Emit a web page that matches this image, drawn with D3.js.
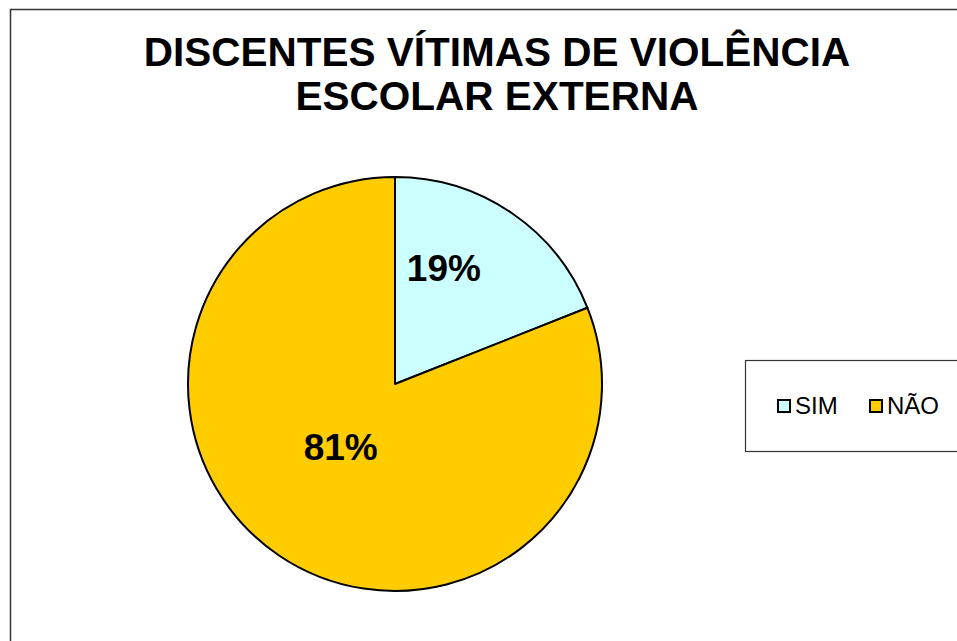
<!DOCTYPE html>
<html>
<head>
<meta charset="utf-8">
<script src="https://cdn.jsdelivr.net/npm/d3@7"></script>
<style>
  html, body { margin: 0; padding: 0; background: #fff; }
  svg { display: block; font-family: "Liberation Sans", Arial, sans-serif; }
</style>
</head>
<body>
<svg id="chart" width="957" height="641"></svg>
<script>
// ---- data ----
const categories = ["SIM", "NÃO"];
const values = [19, 81];
const valueLabels = ["19%", "81%"];
const colors = ["#CCFFFF", "#FFCC00"];
const titleLines = ["DISCENTES VÍTIMAS DE VIOLÊNCIA", "ESCOLAR EXTERNA"];

// ---- layout ----
const W = 957, H = 641;
const svg = d3.select("#chart");

// outer chart border (extends past the right/bottom edges)
svg.append("rect")
  .attr("x", 10.5).attr("y", 9.5)
  .attr("width", W + 20).attr("height", H + 20)
  .attr("fill", "#fff").attr("stroke", "#333").attr("stroke-width", 1.5);

// title
const title = svg.append("text")
  .attr("text-anchor", "middle")
  .attr("font-weight", "bold")
  .attr("font-size", 40.5)
  .attr("fill", "#000");
title.selectAll("tspan").data(titleLines).join("tspan")
  .attr("x", 497)
  .attr("y", (d, i) => 66 + i * 44)
  .text(d => d);

// pie
const cx = 395, cy = 384, r = 207;
const pie = d3.pie().sort(null).value(d => d);
const arcs = pie(values);
const arc = d3.arc().innerRadius(0).outerRadius(r);

const g = svg.append("g").attr("transform", `translate(${cx},${cy})`);
g.selectAll("path.slice").data(arcs).join("path")
  .attr("class", "slice")
  .attr("d", arc)
  .attr("fill", (d, i) => colors[i])
  .attr("stroke", "#000")
  .attr("stroke-width", 2)
  .attr("stroke-linejoin", "round");

// data labels: placed along a polar position relative to each slice
const labelAngleFrac = [0.34, 0.52];
const labelRadiusFrac = [0.61, 0.40];
g.selectAll("text.lbl").data(arcs).join("text")
  .attr("class", "lbl")
  .attr("text-anchor", "middle")
  .attr("font-weight", "bold")
  .attr("font-size", 37)
  .attr("fill", "#000")
  .attr("transform", (d, i) => {
    const a = d.startAngle + (d.endAngle - d.startAngle) * labelAngleFrac[i];
    const rr = r * labelRadiusFrac[i];
    const x = Math.sin(a) * rr, y = -Math.cos(a) * rr;
    return `translate(${x - 1},${y + 13})`;
  })
  .text((d, i) => valueLabels[i]);

// legend box
svg.append("rect")
  .attr("x", 745.5).attr("y", 360.5)
  .attr("width", 230).attr("height", 91)
  .attr("fill", "#fff").attr("stroke", "#333").attr("stroke-width", 1.2);

const legendX = d3.scalePoint().domain(categories).range([778, 870]);
const lg = svg.append("g").selectAll("g").data(categories).join("g")
  .attr("transform", d => `translate(${legendX(d)},400)`);
lg.append("rect")
  .attr("width", 12).attr("height", 12)
  .attr("fill", (d, i) => colors[i])
  .attr("stroke", "#000").attr("stroke-width", 2);
lg.append("text")
  .attr("x", 17).attr("y", 14)
  .attr("font-size", 24)
  .attr("fill", "#000")
  .text(d => d);
</script>
</body>
</html>
